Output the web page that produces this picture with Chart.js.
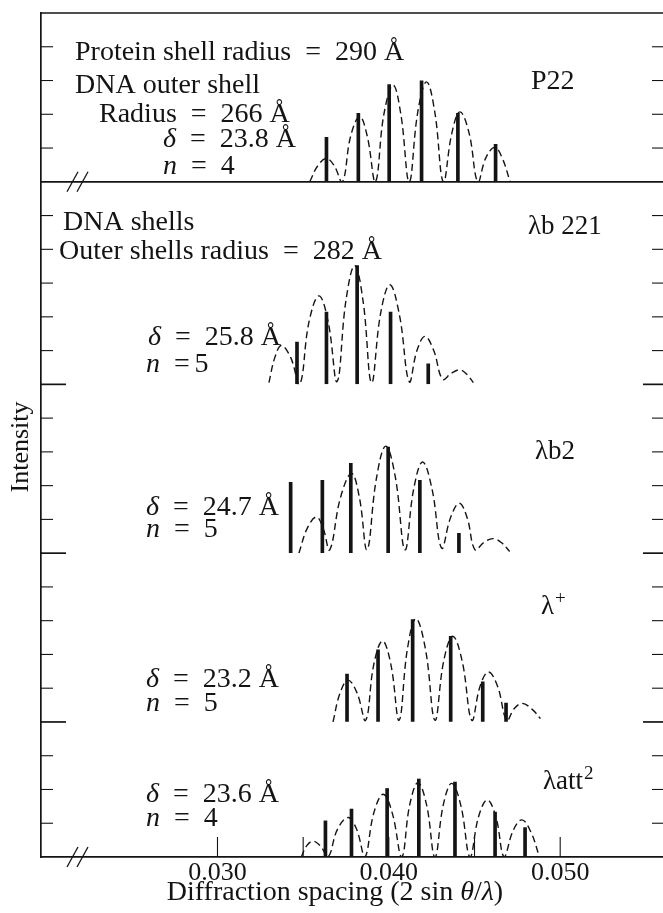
<!DOCTYPE html>
<html>
<head>
<meta charset="utf-8">
<script src="https://cdn.jsdelivr.net/npm/chart.js@4.4.0/dist/chart.umd.min.js"></script>
<style>
  html, body { margin: 0; padding: 0; background: #fff; }
  #wrap { width: 663px; height: 913px; position: relative; }
</style>
</head>
<body>
<div id="wrap"><canvas id="chart"></canvas></div>
<script>
// x axis: diffraction spacing (2 sin θ/λ)
const xMin = 0.0197;
const xMax = 0.0560;
const xTickValues = [0.030, 0.035, 0.040, 0.045, 0.050];
const xLabelValues = [0.030, 0.040, 0.050];

// each panel's intensity, in tick units above its own baseline
// dashed curves: [spacing, intensity]
const p22Curve = [
  [0.03538, 0], [0.03586, 0.48], [0.03636, 0.69], [0.03681, 0.48], [0.03729, 0],
  [0.03777, 1.35], [0.03830, 1.93], [0.03874, 1.35], [0.03922, 0],
  [0.03971, 2.0], [0.04025, 2.86], [0.04070, 2.0], [0.04119, 0],
  [0.04169, 2.07], [0.04220, 2.96], [0.04268, 2.07], [0.04318, 0],
  [0.04368, 1.45], [0.04415, 2.07], [0.04468, 1.45], [0.04519, 0],
  [0.04566, 0.71], [0.04618, 1.02], [0.04661, 0.71], [0.04708, 0]
];
const b221Curve = [
  [0.03300, 0.05], [0.03335, 0.8], [0.03373, 1.15], [0.03427, 0.8], [0.03480, 0],
  [0.03534, 1.85], [0.03592, 2.62], [0.03646, 1.85], [0.03698, 0.08],
  [0.03750, 2.5], [0.03801, 3.52], [0.03850, 2.45], [0.03899, 0.05],
  [0.03952, 2.1], [0.04006, 2.95], [0.04062, 2.05], [0.04119, 0.08],
  [0.04164, 1.0], [0.04211, 1.42], [0.04262, 1.0], [0.04314, 0.15],
  [0.04365, 0.33], [0.04415, 0.43], [0.04455, 0.3], [0.04493, 0.05]
];
const b2Curve = [
  [0.03475, 0], [0.03525, 0.75], [0.03577, 1.07], [0.03616, 0.75], [0.03655, 0.1],
  [0.03718, 1.65], [0.03782, 2.36], [0.03828, 1.65], [0.03873, 0.1],
  [0.03927, 2.2], [0.03982, 3.17], [0.04038, 2.25], [0.04094, 0.1],
  [0.04145, 1.9], [0.04197, 2.7], [0.04252, 1.9], [0.04308, 0.15],
  [0.04360, 1.05], [0.04411, 1.48], [0.04457, 1.05], [0.04503, 0.1],
  [0.04555, 0.32], [0.04610, 0.43], [0.04660, 0.3], [0.04705, 0.05]
];
const plusCurve = [
  [0.03674, 0], [0.03715, 0.85], [0.03762, 1.24], [0.03815, 0.85], [0.03865, 0.05],
  [0.03912, 1.7], [0.03963, 2.4], [0.04012, 1.7], [0.04060, 0.05],
  [0.04108, 2.15], [0.04158, 3.06], [0.04214, 2.15], [0.04269, 0.05],
  [0.04320, 1.8], [0.04373, 2.54], [0.04428, 1.8], [0.04484, 0.05],
  [0.04532, 1.05], [0.04581, 1.48], [0.04635, 1.05], [0.04688, 0.05],
  [0.04732, 0.4], [0.04779, 0.55], [0.04835, 0.38], [0.04885, 0.1]
];
const attCurve = [
  [0.03489, 0], [0.03520, 0.33], [0.03557, 0.47], [0.03600, 0.33], [0.03645, 0],
  [0.03700, 0.82], [0.03762, 1.17], [0.03812, 0.82], [0.03860, 0],
  [0.03912, 1.3], [0.03967, 1.86], [0.04020, 1.3], [0.04075, 0],
  [0.04122, 1.55], [0.04170, 2.2], [0.04220, 1.55], [0.04269, 0],
  [0.04318, 1.55], [0.04367, 2.18], [0.04420, 1.53], [0.04474, 0],
  [0.04524, 1.2], [0.04575, 1.69], [0.04625, 1.18], [0.04673, 0],
  [0.04725, 0.78], [0.04776, 1.1], [0.04828, 0.75], [0.04879, 0]
];

// observed reflections (solid bars): [spacing, intensity]
const p22Bars = [[0.03636, 1.32], [0.03822, 2.03], [0.04002, 2.88], [0.04191, 2.99], [0.04403, 2.03], [0.04623, 1.11]];
const b221Bars = [[0.03464, 1.25], [0.03636, 2.14], [0.03815, 3.52], [0.04010, 2.14], [0.04230, 0.61]];
const b2Bars = [[0.03427, 2.10], [0.03612, 2.16], [0.03778, 2.66], [0.03996, 3.14], [0.04181, 2.16], [0.04409, 0.59]];
const plusBars = [[0.03756, 1.42], [0.03937, 2.14], [0.04139, 3.03], [0.04361, 2.54], [0.04548, 1.19], [0.04684, 0.56]];
const attBars = [[0.03630, 1.07], [0.03782, 1.42], [0.03990, 2.03], [0.04175, 2.31], [0.04386, 2.22], [0.04620, 1.33], [0.04795, 0.87]];

// panels listed bottom to top, each with its height in tick units
const panels = [
  { id: 'att', units: 4, curve: attCurve, bars: attBars },
  { id: 'plus', units: 5, curve: plusCurve, bars: plusBars },
  { id: 'b2', units: 5, curve: b2Curve, bars: b2Bars },
  { id: 'b221', units: 6, curve: b221Curve, bars: b221Bars },
  { id: 'p22', units: 5, curve: p22Curve, bars: p22Bars }
];

const ink = '#141414';
const serif = '"Liberation Serif", "Times New Roman", serif';
const EQ = '\u2002=\u2002';

// text on the figure: parts are [text, style], style 'i' italic, 's' superscript
const notes = [
  { at: [75, 53], parts: [['Protein shell radius' + EQ + '290 Å']] },
  { at: [75, 86], parts: [['DNA outer shell']] },
  { at: [99, 115], parts: [['Radius' + EQ + '266 Å']] },
  { at: [163, 140], parts: [['δ', 'i'], [EQ + '23.8 Å']] },
  { at: [163, 167], parts: [['n', 'i'], [EQ + '4']] },
  { at: [531, 82], parts: [['P22']] },
  { at: [63, 223], parts: [['DNA shells']] },
  { at: [59, 252], parts: [['Outer shells radius' + EQ + '282 Å']] },
  { at: [528, 227], parts: [['λb 221']], size: 27 },
  { at: [148, 338], parts: [['δ', 'i'], [EQ + '25.8 Å']] },
  { at: [146, 365], parts: [['n', 'i'], ['\u2002=\u20065']] },
  { at: [535, 452], parts: [['λb2']], size: 27 },
  { at: [146, 508], parts: [['δ', 'i'], [EQ + '24.7 Å']] },
  { at: [146, 530], parts: [['n', 'i'], [EQ + '5']] },
  { at: [541, 607], parts: [['λ'], ['+', 's']], size: 27 },
  { at: [146, 680], parts: [['δ', 'i'], [EQ + '23.2 Å']] },
  { at: [146, 704], parts: [['n', 'i'], [EQ + '5']] },
  { at: [543, 782], parts: [['λatt'], ['2', 's']], size: 27 },
  { at: [146, 795], parts: [['δ', 'i'], [EQ + '23.6 Å']] },
  { at: [146, 819], parts: [['n', 'i'], [EQ + '4']] }
];

function fontOf(size, style) {
  if (style === 's') return Math.round(size * 0.7) + 'px ' + serif;
  return (style === 'i' ? 'italic ' : '') + size + 'px ' + serif;
}

function drawRich(ctx, parts, x, y, size, center) {
  const widths = parts.map(([t, st]) => { ctx.font = fontOf(size, st); return ctx.measureText(t).width; });
  let cx = center ? x - widths.reduce((a, b) => a + b, 0) / 2 : x;
  parts.forEach(([t, st], i) => {
    ctx.font = fontOf(size, st);
    const dy = st === 's' ? -size * 0.3 : 0;
    ctx.fillText(t, cx + (st === 's' ? 1 : 0), y + dy);
    cx += widths[i];
  });
}

const frame = {
  id: 'frame',
  afterDraw(chart) {
    const { ctx, chartArea: a, scales } = chart;
    ctx.save();
    ctx.strokeStyle = ink;
    ctx.fillStyle = ink;
    ctx.lineCap = 'butt';

    const line = (x1, y1, x2, y2, w) => {
      ctx.lineWidth = w;
      ctx.beginPath(); ctx.moveTo(x1, y1); ctx.lineTo(x2, y2); ctx.stroke();
    };

    // top edge and the P22 baseline run the full width
    line(a.left, a.top, a.right, a.top, 1.5);
    const p22Base = scales.p22.getPixelForValue(0);
    line(a.left, p22Base, a.right, p22Base, 1.7);

    // inward ticks on both sides, longer at each panel baseline
    panels.forEach(p => {
      const s = scales[p.id];
      s.ticks.forEach(t => {
        if (t.value >= p.units) return;
        const y = s.getPixelForValue(t.value);
        if (t.value === 0) {
          if (p.id === 'att' || p.id === 'p22') return;
          line(a.left, y, a.left + 25, y, 1.7);
          line(a.right - 20, y, a.right, y, 1.7);
        } else {
          line(a.left, y, a.left + 12, y, 1.1);
          line(a.right - 11, y, a.right, y, 1.1);
        }
      });
    });

    // inward ticks on the x axis
    xTickValues.forEach(v => {
      const x = scales.x.getPixelForValue(v);
      line(x, a.bottom, x, a.bottom - 20, 1.1);
    });

    // axis break marks
    [p22Base, a.bottom].forEach(y => {
      for (let i = 0; i < 2; i++) {
        const x0 = 67 + i * 10;
        line(x0, y + 10, x0 + 11, y - 10, 1.3);
      }
    });

    // figure text
    ctx.textBaseline = 'middle';
    ctx.textAlign = 'left';
    notes.forEach(n => drawRich(ctx, n.parts, n.at[0], n.at[1], n.size || 28, false));

    drawRich(ctx, [['Diffraction spacing (2 sin '], ['θ', 'i'], ['/'], ['λ', 'i'], [')']],
      335, 893, 28, true);

    ctx.translate(21, 447);
    ctx.rotate(-Math.PI / 2);
    drawRich(ctx, [['Intensity']], 0, 0, 26, true);
    ctx.restore();
  }
};

const scaleOpts = {
  x: {
    type: 'linear',
    min: xMin,
    max: xMax,
    offset: false,
    grid: { drawOnChartArea: false, drawTicks: false },
    border: { display: true, color: ink, width: 1.7 },
    afterBuildTicks: s => { s.ticks = xTickValues.map(v => ({ value: v })); },
    afterFit: s => { s.height = 56; },
    ticks: {
      autoSkip: false,
      maxRotation: 0,
      padding: 1,
      color: ink,
      font: { family: serif, size: 26 },
      callback: v => xLabelValues.includes(v) ? v.toFixed(3) : ''
    }
  }
};

const datasets = [];
panels.forEach(p => {
  scaleOpts[p.id] = {
    type: 'linear',
    position: 'left',
    stack: 'panels',
    stackWeight: p.units,
    min: 0,
    max: p.units,
    ticks: { display: false, stepSize: 1 },
    grid: { drawOnChartArea: false, drawTicks: false },
    border: { display: true, color: ink, width: 1.7 },
    afterFit: s => { s.width = 0; }
  };
  datasets.push({
    type: 'line',
    yAxisID: p.id,
    data: p.curve.map(([x, y]) => ({ x, y })),
    borderColor: ink,
    borderWidth: 1.4,
    borderDash: [7, 4],
    pointRadius: 0,
    tension: 0.4,
    fill: false
  });
  datasets.push({
    type: 'bar',
    yAxisID: p.id,
    data: p.bars.map(([x, y]) => ({ x, y })),
    backgroundColor: ink,
    borderWidth: 0,
    barThickness: 3,
    grouped: false
  });
});

new Chart(document.getElementById('chart'), {
  type: 'line',
  data: { datasets },
  options: {
    responsive: true,
    maintainAspectRatio: false,
    animation: false,
    devicePixelRatio: 1,
    layout: { padding: { top: 13, left: 41, right: 0, bottom: 0 } },
    plugins: {
      legend: { display: false },
      tooltip: { enabled: false }
    },
    events: [],
    scales: scaleOpts
  },
  plugins: [frame]
});
</script>
</body>
</html>
